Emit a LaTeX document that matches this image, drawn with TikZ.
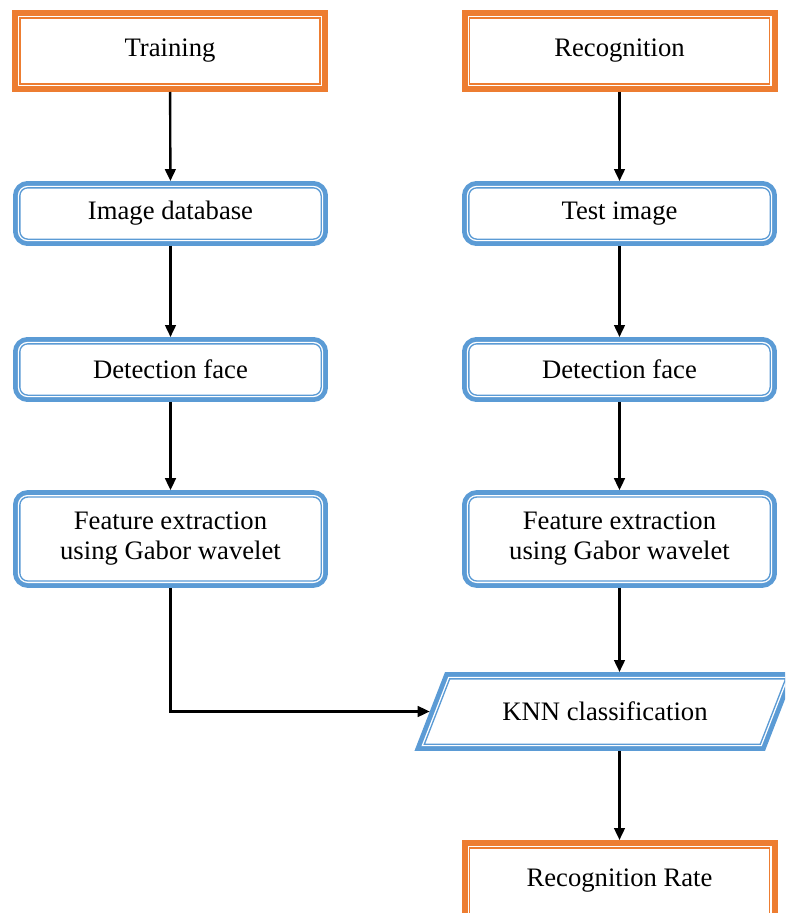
\documentclass[tikz,border=0pt]{standalone}
\usepackage{fontspec}
\setmainfont{Liberation Serif}
\usetikzlibrary{arrows.meta,shapes.geometric}
\definecolor{boxorange}{HTML}{ED7D31}
\definecolor{boxblue}{HTML}{5B9BD5}
\begin{document}
\begin{tikzpicture}[x=0.75pt, y=-0.75pt,
        font=\fontsize{20}{22.5}\selectfont,
        orangebox/.style={rectangle, draw=boxorange, line width=0.8pt, outer sep=6pt,
            minimum width=225pt, minimum height=49.5pt, align=center,
            preaction={draw=boxorange, line width=12pt},
            preaction={draw=white, fill=white, line width=3pt}},
        blueframe/.style={draw=boxblue, line width=1pt, outer sep=5.1pt, align=center,
            preaction={draw=boxblue, line width=10.2pt},
            preaction={draw=white, fill=white, line width=3pt}},
        bluebox/.style={blueframe, rectangle, rounded corners=6pt,
            minimum width=226pt, minimum height=38.5pt},
        knnbox/.style={blueframe, trapezium, trapezium left angle=58, trapezium right angle=122,
            trapezium stretches=true, minimum width=271pt, minimum height=49pt},
        arrow/.style={-{Triangle[length=9pt, width=8pt]}, line width=1.8pt}
    ]
        \useasboundingbox (0,0) rectangle (785,913);
        \clip (0,0) rectangle (785,913);

        \node[orangebox] (train) at (170,51) {Training};
        \node[orangebox] (recog) at (619.5,51) {Recognition};
        \node[bluebox] (database) at (170.5,213.5) {Image database};
        \node[bluebox] (testimg) at (619.5,213.5) {Test image};
        \node[bluebox] (detect1) at (170.5,369.5) {Detection face};
        \node[bluebox] (detect2) at (619.5,369.5) {Detection face};
        \node[bluebox, minimum height=63pt] (gabor1) at (170.5,539) {Feature extraction\\using Gabor wavelet};
        \node[bluebox, minimum height=63pt] (gabor2) at (619.5,539) {Feature extraction\\using Gabor wavelet};
        \node[knnbox] (knn) at (605,711.5) {KNN classification};
        \node[orangebox] (rate) at (619.5,881) {Recognition Rate};

        \draw[arrow] (train) -- (database);
        \draw[arrow] (database) -- (detect1);
        \draw[arrow] (detect1) -- (gabor1);
        \draw[arrow] (recog) -- (testimg);
        \draw[arrow] (testimg) -- (detect2);
        \draw[arrow] (detect2) -- (gabor2);
        \draw[arrow] (gabor1.south) |- (knn.west);
        \draw[arrow] (gabor2.south) -- (gabor2.south |- knn.north);
        \draw[arrow] (rate.north |- knn.south) -- (rate.north);
    \end{tikzpicture}
\end{document}
